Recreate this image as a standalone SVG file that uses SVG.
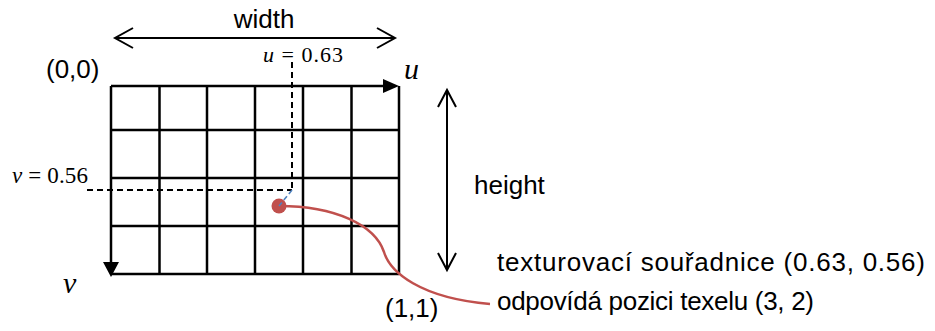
<svg xmlns="http://www.w3.org/2000/svg" width="935" height="331" viewBox="0 0 935 331">
<style>
.t{font-family:"Liberation Sans","Noto Sans",sans-serif;font-size:26px;fill:#000}
.m{font-family:"Liberation Serif","DejaVu Serif",serif;fill:#000}
.g{stroke:#000;stroke-width:2.5;fill:none}
.a{stroke:#000;stroke-width:2;fill:none}
.d{stroke:#000;stroke-width:2;stroke-dasharray:6 4;fill:none}
</style>
<rect width="935" height="331" fill="#fff"/>
<g id="grid">
<path class="g" d="M159.5 86V274M207 86V274M255 86V274M303 86V274M351.5 86V274M399 86V274M111 130H399M111 178H399M111 226H399M111 274H399"/>
</g>
<g id="axis-u">
<line class="g" x1="111" y1="86" x2="386" y2="86"/>
<polygon points="383,79 399,86 383,93" fill="#000"/>
<text class="m" x="404" y="79" font-size="30" font-style="italic">u</text>
</g>
<g id="axis-v">
<line class="g" x1="111" y1="86" x2="111" y2="264"/>
<polygon points="103,262 119,262 111,277" fill="#000"/>
<text class="m" x="63" y="293" font-size="30" font-style="italic">v</text>
</g>
<g id="origin"><text class="t" x="46" y="78">(0,0)</text></g>
<g id="corner"><text class="t" x="385" y="317">(1,1)</text></g>
<g id="width">
<line class="a" x1="116" y1="38" x2="394" y2="38"/>
<polyline class="a" points="133,28 115,38 133,48"/>
<polyline class="a" points="377,28 395,38 377,48"/>
<text class="t" x="264" y="28" text-anchor="middle">width</text>
</g>
<g id="height">
<line class="a" x1="447" y1="91" x2="447" y2="269"/>
<polyline class="a" points="438,107 447,90 456,107"/>
<polyline class="a" points="438,253 447,270 456,253"/>
<text class="t" x="474" y="194">height</text>
</g>
<g id="connectors">
<line class="d" x1="292" y1="62" x2="292" y2="190"/>
<line class="d" x1="87" y1="190" x2="292" y2="190"/>
<path d="M279 206C335 206 375 225 384 252C390 272 420 298 490 304" fill="none" stroke="#C0504D" stroke-width="2.5"/>
</g>
<g id="point">
<circle cx="279" cy="206" r="7.5" fill="#C0504D"/>
<line x1="292" y1="190" x2="279" y2="206" stroke="#4F81BD" stroke-width="1.6" stroke-dasharray="5 3"/>
</g>
<g id="label-u"><text class="m" x="263" y="62" font-size="22" textLength="80"><tspan font-style="italic">u</tspan> = 0.63</text></g>
<g id="label-v"><text class="m" x="12" y="183" font-size="23" textLength="76"><tspan font-style="italic">v</tspan> = 0.56</text></g>
<g id="caption">
<text class="t" x="497" y="271" textLength="428">texturovací souřadnice (0.63, 0.56)</text>
<text class="t" x="497" y="310" textLength="317">odpovídá pozici texelu (3, 2)</text>
</g>
</svg>
